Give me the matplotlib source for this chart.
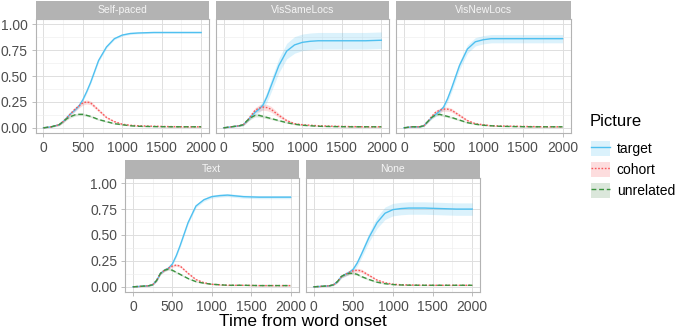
import numpy as np
import matplotlib
matplotlib.use("Agg")
import matplotlib.pyplot as plt
from matplotlib.lines import Line2D
from matplotlib.patches import Patch

plt.rcParams['font.family'] = ['Liberation Sans', 'DejaVu Sans']

# time points (ms from word onset)
time = [0, 100, 200, 250, 300, 350, 400, 450, 500, 550, 600, 700, 800, 900, 1000, 1100, 1200, 1400, 1600, 1800, 2000]

conditions = ['Self-paced', 'VisSameLocs', 'VisNewLocs', 'Text', 'None']
pictures = ['target', 'cohort', 'unrelated']

# Self-paced
sp_target = [0.0, 0.01, 0.03, 0.06, 0.10, 0.14, 0.17, 0.21, 0.27, 0.35, 0.44, 0.65, 0.78, 0.86, 0.895, 0.91, 0.915, 0.92, 0.92, 0.92, 0.92]
sp_target_se = [0.003, 0.005, 0.008, 0.01, 0.012, 0.015, 0.015, 0.015, 0.015, 0.015, 0.015, 0.015, 0.012, 0.01, 0.01, 0.01, 0.008, 0.008, 0.008, 0.008, 0.008]
sp_cohort = [0.0, 0.01, 0.03, 0.06, 0.10, 0.14, 0.18, 0.21, 0.24, 0.25, 0.24, 0.17, 0.10, 0.06, 0.035, 0.025, 0.02, 0.015, 0.012, 0.01, 0.01]
sp_cohort_se = [0.002, 0.004, 0.008, 0.012, 0.015, 0.018, 0.02, 0.02, 0.02, 0.02, 0.018, 0.015, 0.01, 0.008, 0.006, 0.004, 0.004, 0.003, 0.003, 0.003, 0.003]
sp_unrel = [0.0, 0.01, 0.03, 0.06, 0.09, 0.11, 0.125, 0.13, 0.13, 0.12, 0.11, 0.08, 0.06, 0.04, 0.03, 0.02, 0.015, 0.012, 0.01, 0.01, 0.01]
sp_unrel_se = [0.002, 0.004, 0.008, 0.01, 0.012, 0.012, 0.012, 0.012, 0.012, 0.01, 0.01, 0.008, 0.006, 0.005, 0.004, 0.003, 0.003, 0.003, 0.003, 0.003, 0.003]

# VisSameLocs
vs_target = [0.0, 0.01, 0.02, 0.03, 0.07, 0.11, 0.15, 0.18, 0.22, 0.30, 0.40, 0.60, 0.74, 0.80, 0.825, 0.835, 0.84, 0.84, 0.84, 0.84, 0.845]
vs_target_se = [0.003, 0.005, 0.008, 0.01, 0.015, 0.02, 0.025, 0.03, 0.04, 0.05, 0.06, 0.07, 0.075, 0.08, 0.08, 0.08, 0.08, 0.08, 0.08, 0.08, 0.08]
vs_cohort = [0.0, 0.01, 0.02, 0.03, 0.07, 0.12, 0.17, 0.19, 0.20, 0.195, 0.18, 0.12, 0.07, 0.04, 0.03, 0.025, 0.02, 0.015, 0.012, 0.01, 0.01]
vs_cohort_se = [0.002, 0.003, 0.005, 0.008, 0.015, 0.02, 0.025, 0.03, 0.03, 0.03, 0.028, 0.02, 0.012, 0.008, 0.005, 0.004, 0.004, 0.003, 0.003, 0.003, 0.003]
vs_unrel = [0.0, 0.01, 0.02, 0.03, 0.07, 0.10, 0.12, 0.12, 0.11, 0.10, 0.09, 0.07, 0.05, 0.035, 0.025, 0.02, 0.015, 0.012, 0.01, 0.01, 0.01]
vs_unrel_se = [0.002, 0.003, 0.005, 0.008, 0.012, 0.015, 0.015, 0.015, 0.014, 0.012, 0.01, 0.008, 0.006, 0.005, 0.004, 0.003, 0.003, 0.003, 0.003, 0.003, 0.003]

# VisNewLocs
vn_target = [0.0, 0.01, 0.01, 0.02, 0.06, 0.10, 0.13, 0.16, 0.20, 0.28, 0.38, 0.60, 0.76, 0.83, 0.85, 0.86, 0.86, 0.86, 0.86, 0.86, 0.86]
vn_target_se = [0.002, 0.003, 0.005, 0.008, 0.01, 0.015, 0.02, 0.02, 0.025, 0.03, 0.035, 0.04, 0.04, 0.04, 0.04, 0.04, 0.04, 0.04, 0.04, 0.04, 0.04]
vn_cohort = [0.0, 0.01, 0.01, 0.02, 0.06, 0.11, 0.15, 0.17, 0.18, 0.18, 0.17, 0.12, 0.07, 0.04, 0.03, 0.02, 0.018, 0.015, 0.012, 0.01, 0.01]
vn_cohort_se = [0.002, 0.003, 0.004, 0.006, 0.01, 0.015, 0.018, 0.02, 0.02, 0.02, 0.018, 0.014, 0.01, 0.006, 0.005, 0.004, 0.003, 0.003, 0.003, 0.003, 0.003]
vn_unrel = [0.0, 0.01, 0.01, 0.02, 0.06, 0.10, 0.125, 0.13, 0.12, 0.11, 0.10, 0.075, 0.05, 0.035, 0.025, 0.02, 0.015, 0.012, 0.01, 0.01, 0.01]
vn_unrel_se = [0.002, 0.003, 0.004, 0.006, 0.01, 0.012, 0.012, 0.012, 0.012, 0.01, 0.01, 0.008, 0.006, 0.005, 0.004, 0.003, 0.003, 0.003, 0.003, 0.003, 0.003]

# Text
tx_target = [0.0, 0.005, 0.01, 0.02, 0.06, 0.13, 0.16, 0.18, 0.22, 0.30, 0.40, 0.62, 0.78, 0.84, 0.87, 0.88, 0.885, 0.87, 0.865, 0.865, 0.865]
tx_target_se = [0.002, 0.003, 0.004, 0.006, 0.01, 0.012, 0.012, 0.012, 0.014, 0.015, 0.015, 0.015, 0.015, 0.015, 0.015, 0.015, 0.015, 0.015, 0.015, 0.015, 0.015]
tx_cohort = [0.0, 0.005, 0.01, 0.02, 0.06, 0.13, 0.16, 0.18, 0.20, 0.21, 0.20, 0.13, 0.07, 0.04, 0.025, 0.02, 0.015, 0.015, 0.012, 0.012, 0.012]
tx_cohort_se = [0.002, 0.003, 0.004, 0.006, 0.01, 0.012, 0.012, 0.012, 0.012, 0.012, 0.012, 0.01, 0.008, 0.005, 0.004, 0.003, 0.003, 0.003, 0.003, 0.003, 0.003]
tx_unrel = [0.0, 0.005, 0.01, 0.02, 0.06, 0.13, 0.16, 0.17, 0.16, 0.14, 0.12, 0.08, 0.05, 0.035, 0.025, 0.02, 0.015, 0.015, 0.012, 0.012, 0.012]
tx_unrel_se = [0.002, 0.003, 0.004, 0.006, 0.01, 0.01, 0.01, 0.01, 0.01, 0.01, 0.008, 0.006, 0.005, 0.004, 0.003, 0.003, 0.003, 0.003, 0.003, 0.003, 0.003]

# None
no_target = [0.0, 0.005, 0.01, 0.02, 0.05, 0.10, 0.12, 0.14, 0.17, 0.23, 0.31, 0.48, 0.62, 0.71, 0.745, 0.755, 0.76, 0.76, 0.755, 0.75, 0.75]
no_target_se = [0.002, 0.003, 0.004, 0.006, 0.01, 0.015, 0.02, 0.02, 0.025, 0.03, 0.035, 0.045, 0.055, 0.06, 0.06, 0.06, 0.06, 0.06, 0.06, 0.06, 0.06]
no_cohort = [0.0, 0.005, 0.01, 0.02, 0.05, 0.10, 0.12, 0.14, 0.155, 0.16, 0.155, 0.11, 0.065, 0.04, 0.025, 0.02, 0.018, 0.015, 0.015, 0.015, 0.015]
no_cohort_se = [0.002, 0.003, 0.004, 0.006, 0.01, 0.014, 0.016, 0.018, 0.018, 0.018, 0.016, 0.012, 0.008, 0.005, 0.004, 0.003, 0.003, 0.003, 0.003, 0.003, 0.003]
no_unrel = [0.0, 0.005, 0.01, 0.02, 0.05, 0.10, 0.12, 0.13, 0.13, 0.12, 0.10, 0.07, 0.045, 0.03, 0.022, 0.018, 0.016, 0.015, 0.015, 0.015, 0.015]
no_unrel_se = [0.002, 0.003, 0.004, 0.006, 0.01, 0.012, 0.012, 0.012, 0.012, 0.01, 0.01, 0.008, 0.006, 0.004, 0.003, 0.003, 0.003, 0.003, 0.003, 0.003, 0.003]

data = {
    'Self-paced': [(sp_target, sp_target_se), (sp_cohort, sp_cohort_se), (sp_unrel, sp_unrel_se)],
    'VisSameLocs': [(vs_target, vs_target_se), (vs_cohort, vs_cohort_se), (vs_unrel, vs_unrel_se)],
    'VisNewLocs': [(vn_target, vn_target_se), (vn_cohort, vn_cohort_se), (vn_unrel, vn_unrel_se)],
    'Text': [(tx_target, tx_target_se), (tx_cohort, tx_cohort_se), (tx_unrel, tx_unrel_se)],
    'None': [(no_target, no_target_se), (no_cohort, no_cohort_se), (no_unrel, no_unrel_se)],
}

line_cols = ['#4FC0F0', '#F8585A', '#3C9440']
fill_cols = ['#4FC0F0', '#F8585A', '#4E8A4E']
styles = ['-', (0, (1.2, 1.2)), (0, (3.5, 2.0))]

W, H = 677.0, 329.0
# panel rectangles in pixels: left, top, width, height (plot area, strip sits above)
panels = {
    'Self-paced': (35.5, 19, 173.5, 114),
    'VisSameLocs': (215.7, 19, 173.5, 114),
    'VisNewLocs': (396.0, 19, 174.5, 114),
    'Text': (125.0, 178, 173.5, 114),
    'None': (305.7, 178, 174.5, 114),
}
strip_h = 18.5
ylabel_panels = ['Self-paced', 'Text']

fig = plt.figure(figsize=(W / 100, H / 100), dpi=100)


def frac(l, t, w, h):
    "pixel box (top-left origin) -> figure fraction box"
    return [l / W, 1 - (t + h) / H, w / W, h / H]


for cond in conditions:
    l, t, w, h = panels[cond]
    ax = fig.add_axes(frac(l, t, w, h))
    for i, (m, se) in enumerate(data[cond]):
        m = np.array(m)
        se = np.array(se)
        ax.fill_between(time, m - se, m + se, color=fill_cols[i], alpha=0.2, lw=0)
        ax.plot(time, m, color=line_cols[i], ls=styles[i], lw=1.0)
    ax.set_xlim(-100, 2100)
    ax.set_ylim(-0.05, 1.05)
    ax.set_xticks([0, 500, 1000, 1500, 2000])
    ax.set_xticks([250, 750, 1250, 1750], minor=True)
    ax.set_yticks([0, 0.25, 0.5, 0.75, 1.0])
    ax.set_yticks([0.125, 0.375, 0.625, 0.875], minor=True)
    ax.grid(which='major', color='#DEDEDE', lw=0.7)
    ax.grid(which='minor', color='#EEEEEE', lw=0.45)
    ax.set_axisbelow(True)
    for s in ax.spines.values():
        s.set_color('#B3B3B3')
        s.set_linewidth(0.8)
    ax.tick_params(which='major', length=3, width=0.6, color='#B3B3B3',
                   labelsize=10, labelcolor='#4D4D4D', pad=2.5)
    ax.tick_params(which='minor', length=0)
    if cond in ylabel_panels:
        ax.set_yticklabels(['0.00', '0.25', '0.50', '0.75', '1.00'])
    else:
        ax.tick_params(axis='y', which='major', length=0, labelleft=False)
    # strip on top
    sx = fig.add_axes(frac(l, t - strip_h, w, strip_h))
    sx.set_facecolor('#B3B3B3')
    sx.set_xticks([])
    sx.set_yticks([])
    for s in sx.spines.values():
        s.set_visible(False)
    sx.text(0.5, 0.5, cond, color='#F5F5F5', fontsize=7.5, ha='center', va='center',
            transform=sx.transAxes)

fig.text(303 / W, 1 - 321 / H, 'Time from word onset', fontsize=12.5, ha='center', va='center')

# legend: title drawn separately so the gap to the keys matches
fig.text(590 / W, 1 - 122 / H, 'Picture', fontsize=12, ha='left', va='center')
handles = []
for i in range(3):
    p = Patch(facecolor=fill_cols[i], alpha=0.2, edgecolor='none')
    ln = Line2D([], [], color=line_cols[i], ls=styles[i], lw=1.0)
    handles.append((p, ln))
leg = fig.legend(handles, pictures, loc='upper left',
                 bbox_to_anchor=(591 / W, 1 - 141 / H), frameon=False,
                 borderpad=0, borderaxespad=0,
                 fontsize=10, handlelength=1.4, handleheight=1.3,
                 handletextpad=0.45, labelspacing=0.4)

fig.savefig('out.png', dpi=100)
